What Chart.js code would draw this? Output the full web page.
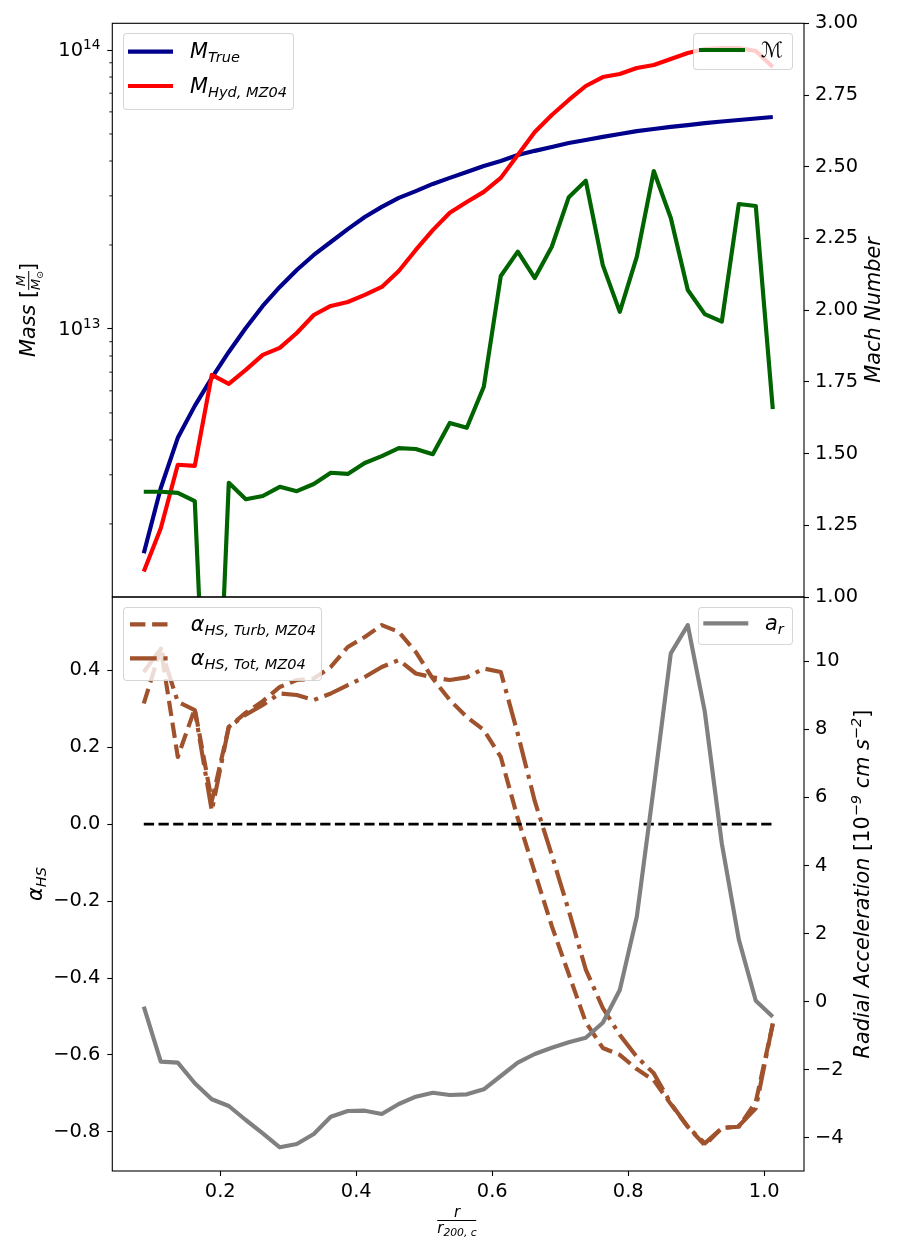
<!DOCTYPE html>
<html>
<head>
<meta charset="utf-8">
<script src="https://cdn.jsdelivr.net/npm/chart.js@4/dist/chart.umd.min.js"></script>
<style>
html,body{margin:0;padding:0;background:#fff;}
#wrap{position:relative;width:900px;height:1252px;overflow:hidden;background:#fff;font-family:"DejaVu Sans",sans-serif;color:#000;}
canvas{position:absolute;left:0;top:0;}
.lg{position:absolute;background:rgba(255,255,255,0.8);border:1px solid rgba(204,204,204,0.8);border-radius:4px;box-sizing:border-box;}
.t{position:absolute;transform:translateY(-50%);font-size:20.8px;line-height:1;white-space:nowrap;}
.t i,.rot i,.xt i{font-style:italic;}
.t sub{font-size:0.7em;vertical-align:-0.3em;line-height:0;font-style:italic;}
.rot{position:absolute;transform:translate(-50%,-50%) rotate(-90deg);font-size:20.8px;line-height:1;white-space:nowrap;}
.rot sub{font-size:0.7em;vertical-align:-0.3em;line-height:0;font-style:italic;}
.rot sup{font-size:0.7em;vertical-align:0.5em;line-height:0;font-style:italic;}
.frac{display:inline-flex;flex-direction:column;vertical-align:middle;font-size:13px;line-height:1.1;text-align:center;}
.frac .n{border-bottom:1px solid #000;padding:0 1px;}
.frac sub{font-size:0.7em;vertical-align:-0.3em;line-height:0;}
.xt{position:absolute;transform:translateX(-50%);display:flex;flex-direction:column;align-items:center;font-size:15px;}
.xt .n{height:15px;line-height:15px;border-bottom:1.1px solid #000;width:39px;text-align:center;}
.xt .d{height:15px;line-height:15px;}
.xt sub{font-size:0.72em;vertical-align:-0.25em;line-height:0;font-style:italic;}
svg{position:absolute;left:0;top:0;}
</style>
</head>
<body>
<div id="wrap">
<canvas id="cTop" width="900" height="1252"></canvas>
<canvas id="cBot" width="900" height="1252"></canvas>

<div class="lg" style="left:122.7px;top:33.3px;width:171.3px;height:76.7px;"></div>
<div class="lg" style="left:693.3px;top:33.3px;width:100px;height:36.7px;"></div>
<div class="lg" style="left:122.7px;top:607.3px;width:199px;height:73.4px;"></div>
<div class="lg" style="left:697.7px;top:607.3px;width:95.6px;height:37.7px;"></div>

<svg width="900" height="1252">
<line x1="128" y1="51.7" x2="173" y2="51.7" stroke="#00008b" stroke-width="4.17"/>
<line x1="128" y1="86" x2="173" y2="86" stroke="#ff0000" stroke-width="4.17"/>
<line x1="699" y1="50" x2="745" y2="50" stroke="#006400" stroke-width="4.17"/>
<line x1="130" y1="624.3" x2="172" y2="624.3" stroke="#a0522d" stroke-width="4.17" stroke-dasharray="15.4 6.7"/>
<line x1="130" y1="658.3" x2="172" y2="658.3" stroke="#a0522d" stroke-width="4.17" stroke-dasharray="26.7 6.7 4.2 6.7"/>
<line x1="703.3" y1="623.3" x2="748.3" y2="623.3" stroke="#808080" stroke-width="4.17"/>
</svg>

<div class="t" style="left:190px;top:51px;"><i>M</i><sub>True</sub></div>
<div class="t" style="left:190px;top:86px;"><i>M</i><sub>Hyd, MZ04</sub></div>
<div class="t" style="left:761px;top:50px;"><i>ℳ</i></div>
<div class="t" style="left:190.7px;top:624px;"><i>α</i><sub>HS, Turb, MZ04</sub></div>
<div class="t" style="left:190.7px;top:658px;"><i>α</i><sub>HS, Tot, MZ04</sub></div>
<div class="t" style="left:765px;top:623px;"><i>a</i><sub>r</sub></div>

<div class="rot" style="left:29px;top:310px;"><i>Mass</i> [<span class="frac"><span class="n"><i>M</i></span><span class="d"><i>M</i><sub>⊙</sub></span></span>]</div>
<div class="rot" style="left:873px;top:310px;"><i>Mach Number</i></div>
<div class="rot" style="left:35px;top:884px;"><i>α</i><sub>HS</sub></div>
<div class="rot" style="left:862px;top:884px;"><i>Radial Acceleration</i> [10<sup>−9</sup> <i>cm s</i><sup>−2</sup>]</div>
<div class="xt" style="left:457px;top:1204.5px;"><div class="n"><i>r</i></div><div class="d"><i>r</i><sub>200, c</sub></div></div>
</div>

<script>
// ---------- data ----------
const radius = [0.0875, 0.1125, 0.1375, 0.1625, 0.1875, 0.2125, 0.2375, 0.2625, 0.2875, 0.3125,
                0.3375, 0.3625, 0.3875, 0.4125, 0.4375, 0.4625, 0.4875, 0.5125, 0.5375, 0.5625,
                0.5875, 0.6125, 0.6375, 0.6625, 0.6875, 0.7125, 0.7375, 0.7625, 0.7875, 0.8125,
                0.8375, 0.8625, 0.8875, 0.9125, 0.9375, 0.9625, 0.9875, 1.0125];

const massTrue = [1.57e12, 2.69e12, 4.07e12, 5.30e12, 6.68e12, 8.27e12, 1.008e13, 1.209e13, 1.414e13, 1.627e13,
                  1.842e13, 2.05e13, 2.28e13, 2.52e13, 2.74e13, 2.95e13, 3.12e13, 3.31e13, 3.48e13, 3.65e13,
                  3.84e13, 4.00e13, 4.20e13, 4.35e13, 4.49e13, 4.64e13, 4.76e13, 4.88e13, 5.00e13, 5.12e13,
                  5.21e13, 5.30e13, 5.38e13, 5.47e13, 5.54e13, 5.61e13, 5.68e13, 5.75e13];

const massHyd = [1.35e12, 1.93e12, 3.26e12, 3.23e12, 6.84e12, 6.35e12, 7.13e12, 8.07e12, 8.55e12, 9.67e12,
                 1.122e13, 1.209e13, 1.249e13, 1.324e13, 1.414e13, 1.614e13, 1.919e13, 2.26e13, 2.61e13, 2.85e13,
                 3.10e13, 3.48e13, 4.20e13, 5.08e13, 5.85e13, 6.62e13, 7.43e13, 8.00e13, 8.20e13, 8.62e13,
                 8.84e13, 9.29e13, 9.75e13, 1.008e14, 1.017e14, 1.017e14, 9.92e13, 8.69e13];

const machNumber = [1.367, 1.367, 1.363, 1.334, 0.0, 1.398, 1.341, 1.352, 1.384, 1.369,
                    1.394, 1.433, 1.429, 1.467, 1.491, 1.519, 1.516, 1.498, 1.607, 1.590,
                    1.733, 2.119, 2.204, 2.112, 2.221, 2.394, 2.451, 2.157, 1.994, 2.186,
                    2.485, 2.321, 2.070, 1.986, 1.960, 2.370, 2.363, 1.655];

const alphaTurb = [0.314, 0.457, 0.175, 0.300, 0.060, 0.253, 0.290, 0.320, 0.357, 0.375,
                   0.379, 0.409, 0.461, 0.487, 0.518, 0.500, 0.448, 0.379, 0.323, 0.279,
                   0.245, 0.175, 0.015, -0.125, -0.265, -0.390, -0.515, -0.582, -0.600, -0.637,
                   -0.666, -0.728, -0.787, -0.835, -0.790, -0.787, -0.722, -0.520];

const alphaTot = [0.396, 0.457, 0.318, 0.297, 0.035, 0.253, 0.285, 0.310, 0.340, 0.336,
                  0.323, 0.340, 0.362, 0.383, 0.409, 0.427, 0.392, 0.382, 0.375, 0.382,
                  0.405, 0.396, 0.235, 0.060, -0.080, -0.225, -0.378, -0.478, -0.548, -0.605,
                  -0.648, -0.726, -0.787, -0.830, -0.791, -0.785, -0.739, -0.518];

const zeroLine = [0, 0, 0, 0, 0, 0, 0, 0, 0, 0, 0, 0, 0, 0, 0, 0, 0, 0, 0,
                  0, 0, 0, 0, 0, 0, 0, 0, 0, 0, 0, 0, 0, 0, 0, 0, 0, 0, 0];

const radialAccel = [-0.147, -1.762, -1.791, -2.396, -2.866, -3.063, -3.474, -3.865, -4.276, -4.179,
                     -3.885, -3.377, -3.210, -3.201, -3.298, -3.004, -2.790, -2.673, -2.740, -2.720,
                     -2.573, -2.182, -1.791, -1.536, -1.351, -1.192, -1.057, -0.617, 0.344, 2.496,
                     6.30, 10.23, 11.06, 8.52, 4.65, 1.83, 0.03, -0.44];

// ---------- ticks ----------
const xTicks = [0.2, 0.4, 0.6, 0.8, 1.0];
const massTicks = [1e13, 1e14];
const massTickBase = ['10', '10'];
const massTickExp = ['13', '14'];
const massMinorTicks = [2e12, 3e12, 4e12, 5e12, 6e12, 7e12, 8e12, 9e12,
                        2e13, 3e13, 4e13, 5e13, 6e13, 7e13, 8e13, 9e13];
const machTicks = [1.00, 1.25, 1.50, 1.75, 2.00, 2.25, 2.50, 2.75, 3.00];
const alphaTicks = [-0.8, -0.6, -0.4, -0.2, 0.0, 0.2, 0.4];
const accelTicks = [-4, -2, 0, 2, 4, 6, 8, 10];

// ---------- axis limits ----------
const X_MIN = 0.0412, X_MAX = 1.0584;
const MASS_MIN = 1.094e12, MASS_MAX = 1.2466e14;
const MACH_MIN = 1.0, MACH_MAX = 3.0;
const ALPHA_MIN = -0.902, ALPHA_MAX = 0.591;
const ACC_MIN = -4.972, ACC_MAX = 11.886;

// ---------- helpers ----------
const pts = (ys) => radius.map((r, i) => ({x: r, y: ys[i]}));
const minus = (s) => s.replace('-', '\u2212');
Chart.defaults.font.family = '"DejaVu Sans", sans-serif';
Chart.defaults.color = '#000';

const LW = 4.17;
const FONT = '"DejaVu Sans", sans-serif';
const tickFont = {size: 19.4, family: FONT};
const gridOpts = {display: true, drawOnChartArea: false, drawTicks: true, tickLength: 5, tickWidth: 1.1, tickColor: '#000', color: '#000'};

const framePlugin = {
  id: 'frame',
  afterDraw(chart) {
    const a = chart.chartArea, ctx = chart.ctx;
    ctx.save();
    ctx.strokeStyle = '#000';
    ctx.lineWidth = 1.1;
    ctx.strokeRect(a.left, a.top, a.right - a.left, a.bottom - a.top);
    ctx.restore();
  }
};
// minor ticks and power-of-ten labels of the log mass axis
const logAxisPlugin = {
  id: 'logAxis',
  afterDraw(chart) {
    const s = chart.scales.yMass, a = chart.chartArea, ctx = chart.ctx;
    ctx.save();
    ctx.strokeStyle = '#000';
    ctx.lineWidth = 0.9;
    massMinorTicks.forEach(v => {
      const y = s.getPixelForValue(v);
      if (y < a.top || y > a.bottom) return;
      ctx.beginPath();
      ctx.moveTo(a.left - 3, y);
      ctx.lineTo(a.left, y);
      ctx.stroke();
    });
    ctx.fillStyle = '#000';
    ctx.textBaseline = 'middle';
    ctx.textAlign = 'left';
    massTicks.forEach((v, i) => {
      const y = s.getPixelForValue(v);
      const xr = a.left - 5 - 7;
      ctx.font = '13.6px ' + FONT;
      const wSup = ctx.measureText(massTickExp[i]).width;
      ctx.fillText(massTickExp[i], xr - wSup, y - 4.5);
      ctx.font = '19.4px ' + FONT;
      const wBase = ctx.measureText(massTickBase[i]).width;
      ctx.fillText(massTickBase[i], xr - wSup - wBase, y + 1);
    });
    ctx.restore();
  }
};

const lineDefaults = {pointRadius: 0, tension: 0, fill: false, borderJoinStyle: 'round', borderCapStyle: 'butt'};

// ---------- top panel ----------
new Chart(document.getElementById('cTop'), {
  type: 'line',
  data: {
    datasets: [
      Object.assign({label: 'Mach', data: pts(machNumber), yAxisID: 'yMach', borderColor: '#006400', borderWidth: LW, order: 0, clip: 0}, lineDefaults),
      Object.assign({label: 'M_Hyd,MZ04', data: pts(massHyd), yAxisID: 'yMass', borderColor: '#ff0000', borderWidth: LW, order: 1}, lineDefaults),
      Object.assign({label: 'M_True', data: pts(massTrue), yAxisID: 'yMass', borderColor: '#00008b', borderWidth: LW, order: 2}, lineDefaults)
    ]
  },
  options: {
    responsive: false, animation: false, devicePixelRatio: 1,
    layout: {padding: {top: 23.3, bottom: 655, left: 0, right: 0}},
    plugins: {legend: {display: false}, tooltip: {enabled: false}},
    scales: {
      x: {type: 'linear', min: X_MIN, max: X_MAX, display: false},
      yMass: {
        type: 'logarithmic', position: 'left', min: MASS_MIN, max: MASS_MAX,
        afterFit: s => { s.width = 112.3; },
        afterBuildTicks: s => { s.ticks = massTicks.map(v => ({value: v})); },
        ticks: {display: false, autoSkip: false},
        grid: gridOpts, border: {display: false}
      },
      yMach: {
        type: 'linear', position: 'right', min: MACH_MIN, max: MACH_MAX,
        afterFit: s => { s.width = 96; },
        afterBuildTicks: s => { s.ticks = machTicks.map(v => ({value: v})); },
        ticks: {font: tickFont, color: '#000', padding: 6, autoSkip: false, callback: v => v.toFixed(2)},
        grid: gridOpts, border: {display: false}
      }
    }
  },
  plugins: [framePlugin, logAxisPlugin]
});

// ---------- bottom panel ----------
new Chart(document.getElementById('cBot'), {
  type: 'line',
  data: {
    datasets: [
      Object.assign({label: 'a_r', data: pts(radialAccel), yAxisID: 'yAcc', borderColor: '#808080', borderWidth: LW, order: 0}, lineDefaults),
      Object.assign({label: 'zero', data: pts(zeroLine), yAxisID: 'yAlpha', borderColor: '#000000', borderWidth: 2.78, borderDash: [10.3, 4.4], order: 1}, lineDefaults),
      Object.assign({label: 'alpha_HS,Tot,MZ04', data: pts(alphaTot), yAxisID: 'yAlpha', borderColor: '#a0522d', borderWidth: LW, borderDash: [26.7, 6.7, 4.2, 6.7], order: 2}, lineDefaults),
      Object.assign({label: 'alpha_HS,Turb,MZ04', data: pts(alphaTurb), yAxisID: 'yAlpha', borderColor: '#a0522d', borderWidth: LW, borderDash: [15.4, 6.7], order: 3}, lineDefaults)
    ]
  },
  options: {
    responsive: false, animation: false, devicePixelRatio: 1,
    layout: {padding: {top: 597, bottom: 0, left: 0, right: 0}},
    plugins: {legend: {display: false}, tooltip: {enabled: false}},
    scales: {
      x: {
        type: 'linear', position: 'bottom', min: X_MIN, max: X_MAX,
        afterFit: s => { s.height = 81; },
        afterBuildTicks: s => { s.ticks = xTicks.map(v => ({value: v})); },
        ticks: {font: tickFont, color: '#000', padding: 4, autoSkip: false, maxRotation: 0, callback: v => v.toFixed(1)},
        grid: gridOpts, border: {display: false}
      },
      yAlpha: {
        type: 'linear', position: 'left', min: ALPHA_MIN, max: ALPHA_MAX,
        afterFit: s => { s.width = 112.3; },
        afterBuildTicks: s => { s.ticks = alphaTicks.map(v => ({value: v})); },
        ticks: {font: tickFont, color: '#000', padding: 7, autoSkip: false, callback: v => minus(v.toFixed(1))},
        grid: gridOpts, border: {display: false}
      },
      yAcc: {
        type: 'linear', position: 'right', min: ACC_MIN, max: ACC_MAX,
        afterFit: s => { s.width = 96; },
        afterBuildTicks: s => { s.ticks = accelTicks.map(v => ({value: v})); },
        ticks: {font: tickFont, color: '#000', padding: 6, autoSkip: false, callback: v => minus(String(v))},
        grid: gridOpts, border: {display: false}
      }
    }
  },
  plugins: [framePlugin]
});
</script>
</body>
</html>
